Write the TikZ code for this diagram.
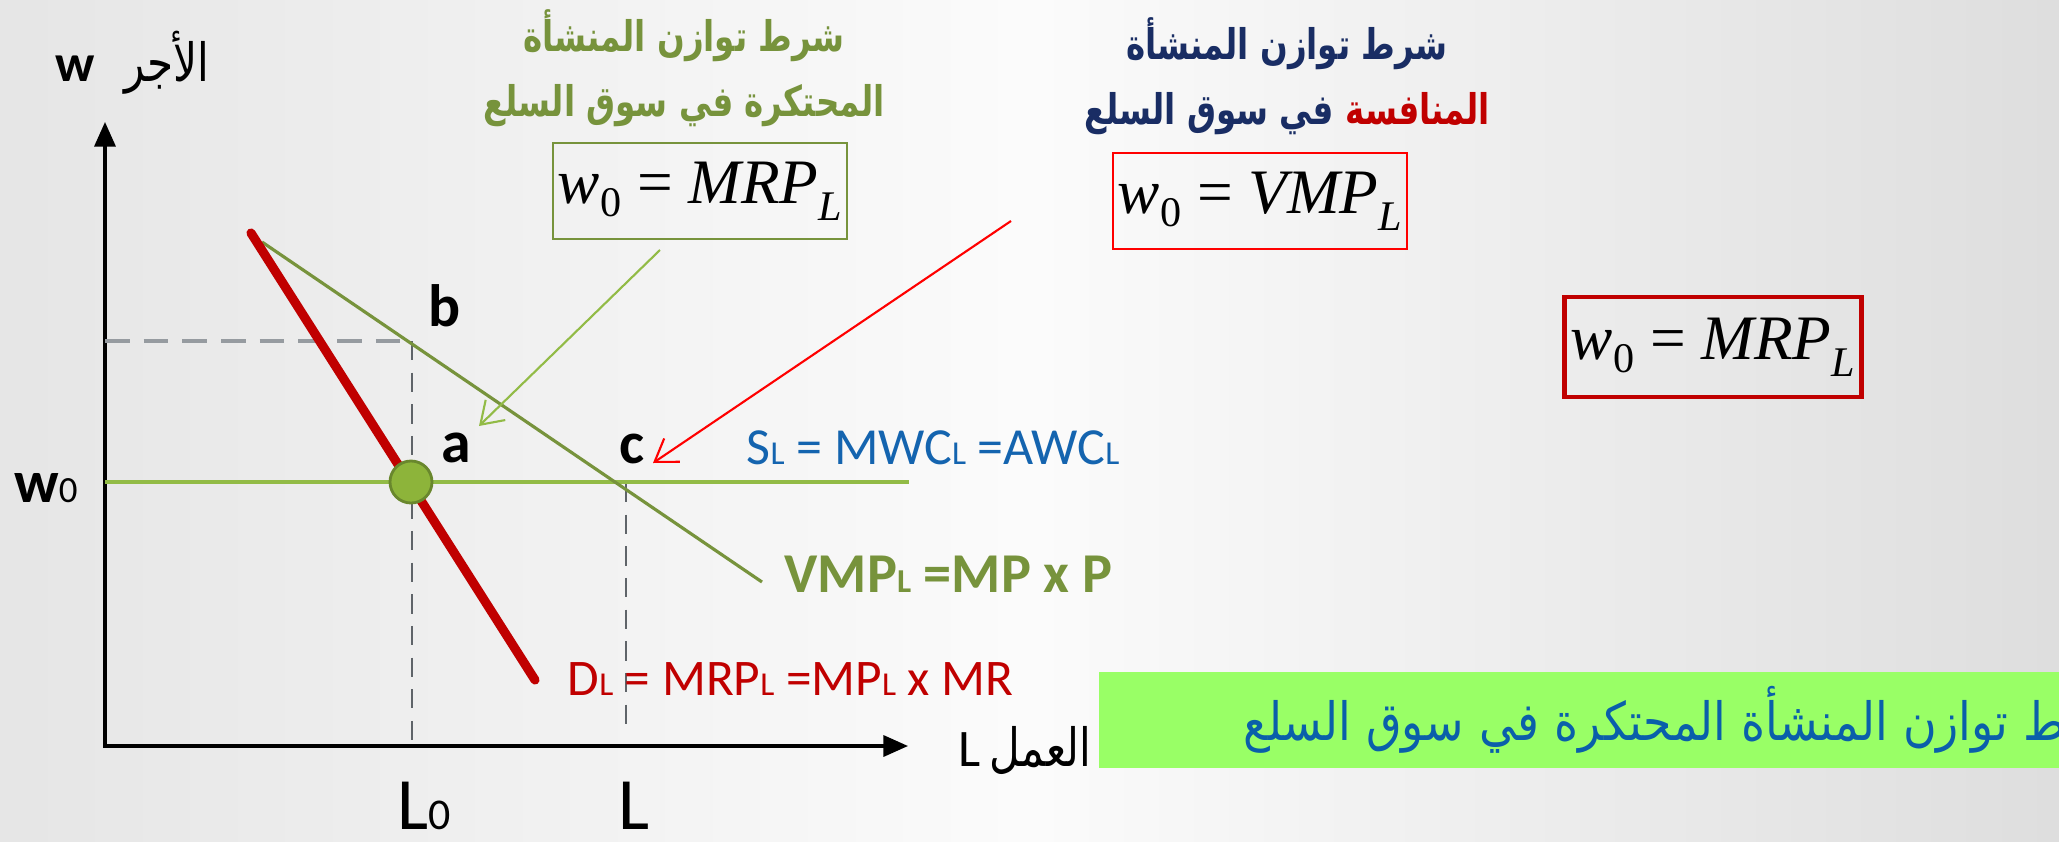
\documentclass[tikz,border=0pt]{standalone}
\usepackage{fontspec}
\setmainfont{Carlito}
\newfontfamily\arabicfont[Script=Arabic]{DejaVu Sans}
\newfontfamily\eqfont{Liberation Serif}
\usetikzlibrary{arrows.meta}
\TeXXeTstate=1
\definecolor{oliveline}{RGB}{119,147,60}
\definecolor{lightolive}{RGB}{146,187,70}
\definecolor{dotfill}{RGB}{141,180,58}
\definecolor{dotedge}{RGB}{105,135,45}
\definecolor{darkred}{RGB}{192,0,0}
\definecolor{supplyblue}{RGB}{20,100,175}
\definecolor{navytitle}{RGB}{25,45,100}
\definecolor{bannergreen}{RGB}{153,255,102}
\definecolor{bannerblue}{RGB}{10,95,170}
\definecolor{dashlight}{RGB}{150,155,160}
\definecolor{dashdark}{RGB}{95,100,105}
\newcommand{\lsub}[1]{{\fontsize{9.5}{9.5}\selectfont #1}}
\newcommand{\wzero}{{\itshape w}\raisebox{-0.45ex}{\fontsize{12}{12}\selectfont 0}}
\newcommand{\eqsub}[1]{\raisebox{-0.6ex}{\fontsize{12}{12}\selectfont\itshape #1}}
\newcommand{\narrow}[2][0.77]{\scalebox{#1}[1]{#2}}

\begin{document}
\begin{tikzpicture}
        [
          x=0.01cm, y=-0.01cm,
          every node/.style={inner sep=0pt},
          axis/.style={line width=0.9pt, {Triangle[length=7pt,width=6pt]}-{Triangle[length=7pt,width=6pt]}},
          demand/.style={darkred, line width=2.6pt, line cap=round},
          vmpline/.style={oliveline, line width=0.9pt},
          supply/.style={lightolive, line width=1.2pt},
          guideh/.style={dashlight, line width=1.1pt, dash pattern=on 7pt off 4pt},
          guidev/.style={dashdark, line width=0.7pt, dash pattern=on 5.5pt off 3.5pt},
          pointer/.style={line width=0.6pt, -{Straight Barb[length=6pt,width=8pt]}},
          point/.style={circle, fill=dotfill, draw=dotedge, line width=0.8pt, minimum size=0.42cm},
          letter/.style={font=\fontsize{17}{17}\selectfont\bfseries},
          curvelbl/.style={anchor=west, font=\fontsize{14.8}{14.8}\selectfont},
          title/.style={align=center, font=\arabicfont\bfseries\fontsize{12}{18.5}\selectfont},
          eqbox/.style={draw, line width=0.6pt, minimum width=2.94cm, minimum height=0.96cm, font=\eqfont\fontsize{18}{18}\selectfont},
          banner/.style={fill=bannergreen, text=bannerblue, minimum height=0.96cm, text width=10cm, inner xsep=1.45cm, align=left, font=\arabicfont\fontsize{15}{15}\selectfont}
        ]
        \clip (0,0) rectangle (2059,842);
        \shade[left color=gray!20, right color=gray!26, middle color=gray!3] (0,0) rectangle (2059,842);

        \coordinate (O) at (105,746);
        \coordinate (Ytip) at (105,122);
        \coordinate (Xtip) at (908,746);
        \coordinate (Dtop) at (251,233);
        \coordinate (Dbot) at (535,680);
        \coordinate (Vtop) at (262,242);
        \coordinate (Vbot) at (762,582);
        \coordinate (Sw) at (105,482);
        \coordinate (Se) at (909,482);
        \coordinate (pb) at (412,341);
        \coordinate (Bax) at (105,341);
        \coordinate (L0ax) at (412,740);
        \coordinate (pc) at (626,483);
        \coordinate (Lax) at (626,730);

        \draw[axis] (Ytip) -- (O) -- (Xtip);
        \draw[guideh] (Bax) -- (pb);
        \draw[guidev] (pb) -- (L0ax);
        \draw[guidev] (pc) -- (Lax);
        \draw[supply] (Sw) -- (Se);
        \draw[vmpline] (Vtop) -- (Vbot);
        \draw[demand] (Dtop) -- (Dbot);
        \node[point] (pa) at (411,482) {};

        \node[letter] (lb) at (445,306) {b};
        \node[letter] (la) at (456,448) {a};
        \node[letter] (lc) at (632,449) {c};
        \node (lw0) at (46,488) {{\fontsize{17}{17}\selectfont\bfseries w}{\fontsize{10.5}{10.5}\selectfont 0}};
        \node (lL0) at (424,806) {{\fontsize{21}{21}\selectfont L}{\fontsize{12.5}{12.5}\selectfont 0}};
        \node (lL) at (634,806) {{\fontsize{21}{21}\selectfont L}};

        \node[curvelbl, supplyblue] (slab) at (746,448) {S\lsub{L} = MWC\lsub{L} =AWC\lsub{L}};
        \node[curvelbl, oliveline, font=\fontsize{16}{16}\selectfont\bfseries] (vlab) at (784,574) {VMP\lsub{L} =MP x P};
        \node[curvelbl, darkred, font=\fontsize{14.6}{14.6}\selectfont] (dlab) at (567,679) {D\lsub{L} = MRP\lsub{L} =MP\lsub{L} x MR};

        \node[title, oliveline] (montitle) at (684,68) {\narrow{\beginR شرط توازن المنشأة\endR}\\\narrow{\beginR المحتكرة في سوق السلع\endR}};
        \node[title, navytitle] (comptitle) at (1287,76) {\narrow{\beginR شرط توازن المنشأة\endR}\\\narrow{\beginR في سوق السلع\endR\ \textcolor{darkred}{\beginR المنافسة\endR}}};

        \node[eqbox, draw=oliveline] (eqmon) at (700,191) {\wzero{} = \textit{MRP}\eqsub{L}};
        \node[eqbox, draw=red] (eqcomp) at (1260,201) {\wzero{} = \textit{VMP}\eqsub{L}};
        \node[eqbox, draw=darkred, line width=1.3pt, minimum width=2.97cm, minimum height=1cm] (eqright) at (1713,347) {\wzero{} = \textit{MRP}\eqsub{L}};

        \coordinate (gtail) at (660,250);
        \coordinate (ghead) at (479,426);
        \draw[pointer, lightolive] (gtail) -- (ghead);
        \coordinate (rtail) at (1011,221);
        \coordinate (rhead) at (653,463);
        \draw[pointer, red] (rtail) -- (rhead);

        \node[anchor=west, font=\fontsize{15}{15}\selectfont] (xlab) at (958,750) {L\,\narrow[0.8]{\arabicfont\beginR العمل\endR}};
        \node[anchor=west, font=\fontsize{15}{15}\selectfont] (ylab) at (55,63) {\textbf{w}\;\;\narrow[0.8]{\arabicfont\beginR الأجر\endR}};

        \node[banner, anchor=west] (banner) at (1098,720) {\narrow[0.87]{\beginR شرط توازن المنشأة المحتكرة في سوق السلع\endR}};
\end{tikzpicture}
\end{document}
